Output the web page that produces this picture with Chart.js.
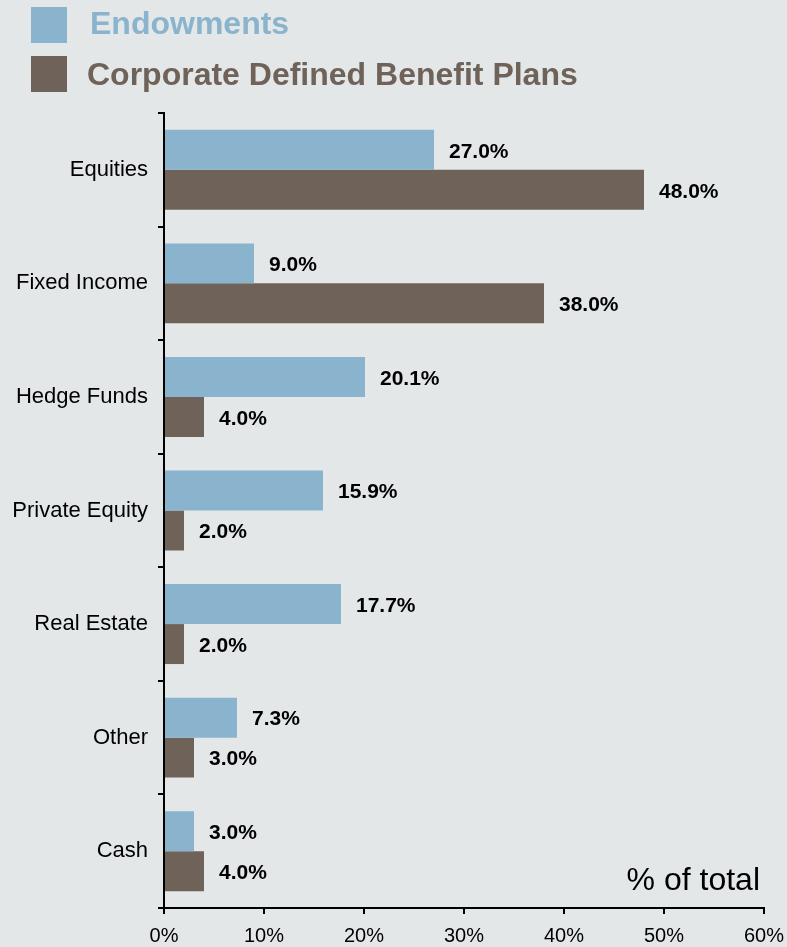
<!DOCTYPE html>
<html>
<head>
<meta charset="utf-8">
<script src="https://cdn.jsdelivr.net/npm/chart.js@4"></script>
<style>
  html, body { margin: 0; padding: 0; background: #e3e7e8; }
  #wrap { position: relative; width: 787px; height: 947px; }
</style>
</head>
<body>
<div id="wrap"><canvas id="allocChart" width="787" height="947"></canvas></div>
<script>
const categories = ['Equities', 'Fixed Income', 'Hedge Funds', 'Private Equity', 'Real Estate', 'Other', 'Cash'];
const endowments = [27.0, 9.0, 20.1, 15.9, 17.7, 7.3, 3.0];
const corporateDB = [48.0, 38.0, 4.0, 2.0, 2.0, 3.0, 4.0];
const xTicks = [0, 10, 20, 30, 40, 50, 60];

const FONT = '"Liberation Sans", Arial, sans-serif';
const BLUE = '#8ab3cd';
const BROWN = '#6f6259';

// bold value labels at the end of each bar
const valueLabels = {
  id: 'valueLabels',
  afterDatasetsDraw(chart) {
    const ctx = chart.ctx;
    ctx.save();
    ctx.font = 'bold 21px ' + FONT;
    ctx.fillStyle = '#000';
    ctx.textBaseline = 'middle';
    ctx.textAlign = 'left';
    chart.data.datasets.forEach((ds, i) => {
      chart.getDatasetMeta(i).data.forEach((bar, j) => {
        ctx.fillText(ds.data[j].toFixed(1) + '%', bar.x + 15, bar.y + 2);
      });
    });
    ctx.restore();
  }
};

// stacked legend at the top and the "% of total" note
const extras = {
  id: 'extras',
  afterDraw(chart) {
    const ctx = chart.ctx;
    ctx.save();
    ctx.textBaseline = 'alphabetic';
    ctx.textAlign = 'left';
    ctx.font = 'bold 32px ' + FONT;
    chart.data.datasets.forEach((ds, i) => {
      const top = 7 + i * 49;
      ctx.fillStyle = ds.backgroundColor;
      ctx.fillRect(31, top, 36, 36);
      ctx.fillText(ds.label, i === 0 ? 90 : 87, top + 27 + i * 2);
    });
    ctx.font = '32px ' + FONT;
    ctx.fillStyle = '#000';
    ctx.textAlign = 'right';
    ctx.fillText('% of total', chart.chartArea.right - 4, 890);
    ctx.restore();
  }
};

new Chart(document.getElementById('allocChart'), {
  type: 'bar',
  data: {
    labels: categories,
    datasets: [
      { label: 'Endowments', data: endowments, backgroundColor: BLUE },
      { label: 'Corporate Defined Benefit Plans', data: corporateDB, backgroundColor: BROWN }
    ]
  },
  options: {
    indexAxis: 'y',
    responsive: false,
    animation: false,
    layout: { padding: { top: 113, right: 23, left: 0, bottom: 0 } },
    datasets: { bar: { categoryPercentage: 0.704, barPercentage: 1.0 } },
    plugins: {
      legend: { display: false },
      tooltip: { enabled: false }
    },
    scales: {
      x: {
        min: 0,
        max: 60,
        afterBuildTicks(scale) { scale.ticks = xTicks.map(v => ({ value: v })); },
        afterFit(scale) {
          scale.height = 39;
          scale.paddingRight = 0;
          scale.paddingLeft = 0;
        },
        ticks: {
          callback: v => v + '%',
          color: '#000',
          font: { family: FONT, size: 20 },
          padding: 10,
          maxRotation: 0
        },
        grid: { drawOnChartArea: false, tickLength: 6, color: '#000', lineWidth: 2 },
        border: { color: '#000', width: 2 }
      },
      y: {
        afterFit(scale) { scale.width = 164; },
        ticks: {
          color: '#000',
          font: { family: FONT, size: 22 },
          padding: 10
        },
        grid: { offset: true, drawOnChartArea: false, tickLength: 6, color: '#000', lineWidth: 2 },
        border: { color: '#000', width: 2 }
      }
    }
  },
  plugins: [valueLabels, extras]
});
</script>
</body>
</html>
